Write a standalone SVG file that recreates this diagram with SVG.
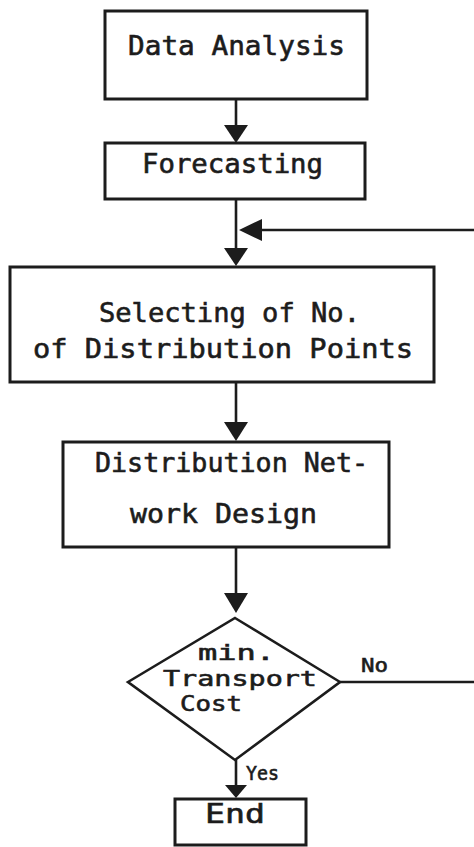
<svg xmlns="http://www.w3.org/2000/svg" width="474" height="847" viewBox="0 0 474 847">
  <style>
    .box { fill: none; stroke: #1c1c1c; stroke-width: 3; }
    .line { fill: none; stroke: #1c1c1c; stroke-width: 2.6; }
    .head { fill: #1c1c1c; }
    .lbl { font-family: "DejaVu Sans Mono", "Liberation Mono", monospace; fill: #1c1c1c; stroke: #1c1c1c; stroke-width: 0.6; }
    .big { font-size: 27px; }
    .mid { font-size: 22px; }
    .small { font-size: 19px; }
  </style>
  <rect width="474" height="847" fill="#ffffff"/>

  <!-- connectors -->
  <g id="connectors">
    <line class="line" x1="236" y1="99" x2="236" y2="128"/>
    <polygon class="head" points="224,125 248,125 236,143"/>

    <line class="line" x1="236" y1="199" x2="236" y2="250"/>
    <polygon class="head" points="224,248 248,248 236,266"/>

    <!-- loop back from the decision -->
    <line class="line" x1="260" y1="230" x2="474" y2="230"/>
    <polygon class="head" points="262,219 262,241 239,230"/>

    <line class="line" x1="236" y1="382" x2="236" y2="425"/>
    <polygon class="head" points="224,422 248,422 236,441"/>

    <line class="line" x1="236" y1="547" x2="236" y2="596"/>
    <polygon class="head" points="224,593 248,593 236,613"/>

    <line class="line" x1="236" y1="760" x2="236" y2="788"/>
    <polygon class="head" points="225,785 247,785 236,798"/>

    <line class="line" x1="340" y1="682" x2="474" y2="682"/>
    <text class="lbl small" x="361" y="672" textLength="27" lengthAdjust="spacingAndGlyphs">No</text>
    <text class="lbl small" x="246" y="780" textLength="33" lengthAdjust="spacingAndGlyphs">Yes</text>
  </g>

  <g id="data-analysis">
    <rect class="box" x="105" y="11" width="262" height="88"/>
    <text class="lbl big" x="128" y="55" textLength="217" lengthAdjust="spacingAndGlyphs">Data Analysis</text>
  </g>

  <g id="forecasting">
    <rect class="box" x="105" y="143" width="260" height="56"/>
    <text class="lbl big" x="142" y="173" textLength="181" lengthAdjust="spacingAndGlyphs">Forecasting</text>
  </g>

  <g id="selecting">
    <rect class="box" x="10" y="267" width="424" height="115"/>
    <text class="lbl big" x="99" y="322" textLength="261" lengthAdjust="spacingAndGlyphs">Selecting of No.</text>
    <text class="lbl big" x="33" y="358" textLength="380" lengthAdjust="spacingAndGlyphs">of Distribution Points</text>
  </g>

  <g id="network-design">
    <rect class="box" x="63" y="442" width="326" height="105"/>
    <text class="lbl big" x="95" y="472" textLength="273" lengthAdjust="spacingAndGlyphs">Distribution Net-</text>
    <text class="lbl big" x="130" y="523" textLength="187" lengthAdjust="spacingAndGlyphs">work Design</text>
  </g>

  <g id="min-cost">
    <polygon class="line" points="235,618 340,682 235,760 128,682"/>
    <text class="lbl mid" x="198" y="660" textLength="77" lengthAdjust="spacingAndGlyphs">min.</text>
    <text class="lbl mid" x="163" y="686" textLength="154" lengthAdjust="spacingAndGlyphs">Transport</text>
    <text class="lbl mid" x="180" y="711" textLength="62" lengthAdjust="spacingAndGlyphs">Cost</text>
  </g>

  <g id="end">
    <rect class="box" x="175" y="799" width="131" height="46"/>
    <text class="lbl big" x="205" y="823" textLength="60" lengthAdjust="spacingAndGlyphs">End</text>
  </g>
</svg>
